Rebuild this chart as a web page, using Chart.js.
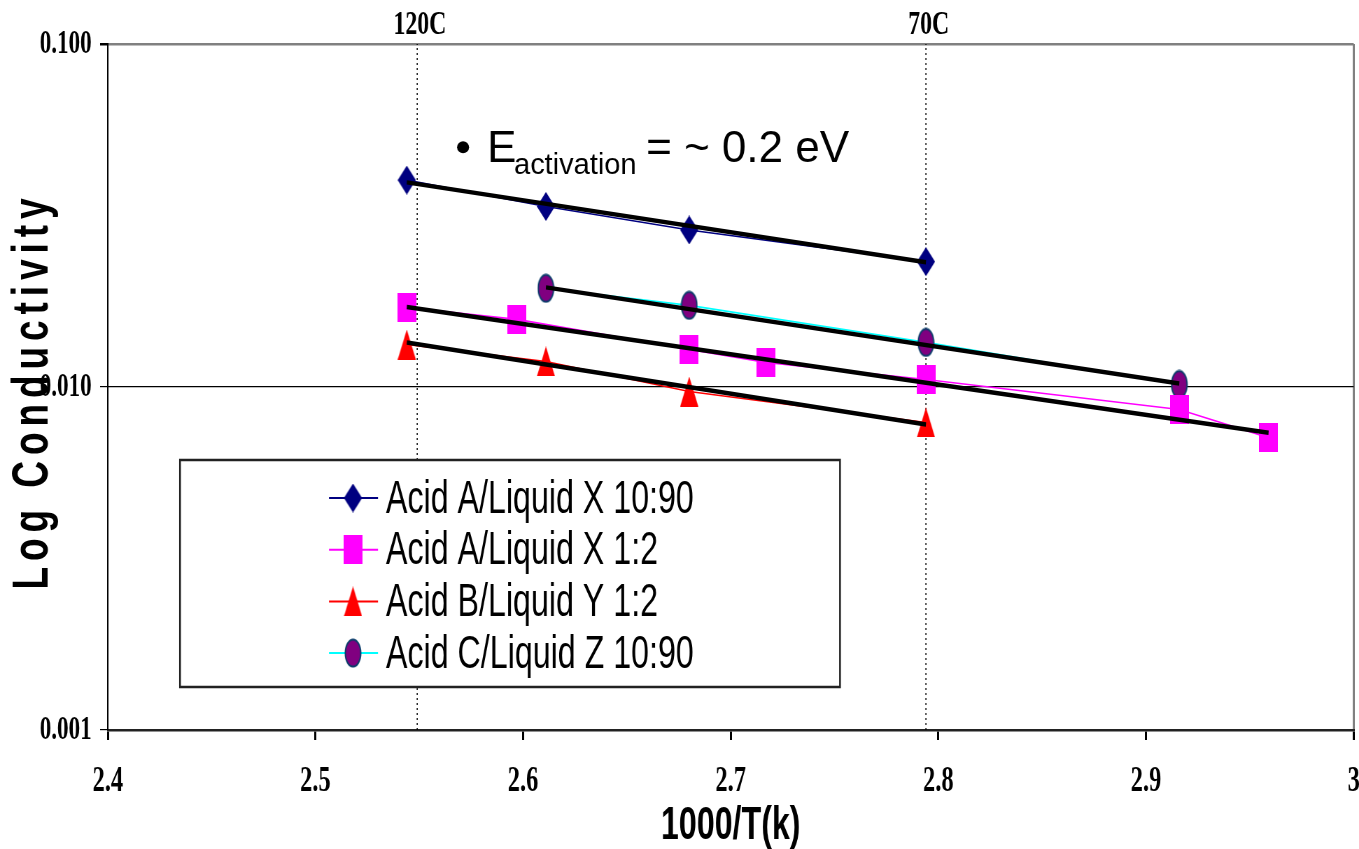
<!DOCTYPE html>
<html>
<head>
<meta charset="utf-8">
<script src="https://cdn.jsdelivr.net/npm/chart.js@4.4.1/dist/chart.umd.min.js"></script>
<style>
  html, body { margin: 0; padding: 0; background: #fff; overflow: hidden; }
  /* the original picture is squeezed sideways, so the chart is drawn wide and narrowed */
  #wrap { position: absolute; left: 0; top: 0; width: 1950px; height: 849px;
          transform: scaleX(0.6998); transform-origin: 0 0; }
</style>
</head>
<body>
<div id="wrap"><canvas id="chart"></canvas></div>
<script>
const K = 0.6998; // horizontal squeeze

// Series data (x = 1000/T, y = conductivity)
const seriesNames = ["Acid A/Liquid X 10:90", "Acid A/Liquid X 1:2", "Acid B/Liquid Y 1:2", "Acid C/Liquid Z 10:90"];
const xA = [2.544, 2.611, 2.680, 2.794];
const yA = [0.0401, 0.0336, 0.0287, 0.0232];
const xB = [2.544, 2.597, 2.680, 2.717, 2.794, 2.916, 2.959];
const yB = [0.01706, 0.01575, 0.01287, 0.01179, 0.01052, 0.00860, 0.00712];
const xC = [2.544, 2.611, 2.680, 2.794];
const yC = [0.0133, 0.01187, 0.00970, 0.00788];
const xD = [2.611, 2.680, 2.794, 2.916];
const yD = [0.0194, 0.0173, 0.01349, 0.01017];

// Exponential trendlines (end points)
const trendX = [[2.544, 2.794], [2.544, 2.959], [2.544, 2.794], [2.611, 2.916]];
const trendY = [[0.0395, 0.0231], [0.0171, 0.00736], [0.01349, 0.00777], [0.01952, 0.01024]];

// Temperature markers
const tempX = [2.549, 2.794];
const tempLabels = ["120C", "70C"];

// Axes
const xTicks = [2.4, 2.5, 2.6, 2.7, 2.8, 2.9, 3.0];
const yTicks = [0.001, 0.01, 0.1];
const xTitle = "1000/T(k)";
const yTitle = "Log Conductivity";
const annotation = { x: 2.5711, y: 0.0500, main: "E", sub: "activation", rest: "= ~ 0.2 eV" };

// Marker images
function makeMarker(kind, w, h, fill, stroke) {
  const c = document.createElement("canvas");
  c.width = w; c.height = h;
  const g = c.getContext("2d");
  g.fillStyle = fill;
  g.beginPath();
  if (kind === "diamond") {
    g.moveTo(w / 2, 0); g.lineTo(w, h / 2); g.lineTo(w / 2, h); g.lineTo(0, h / 2); g.closePath();
  } else if (kind === "square") {
    g.rect(0, 0, w, h);
  } else if (kind === "triangle") {
    g.moveTo(w / 2, 0); g.lineTo(w, h); g.lineTo(0, h); g.closePath();
  } else {
    g.ellipse(w / 2, h / 2, w / 2 - 1.5, h / 2 - 1.5, 0, 0, Math.PI * 2);
  }
  g.fill();
  if (stroke) { g.strokeStyle = stroke; g.lineWidth = 2; g.stroke(); }
  return c;
}

const markers = [
  makeMarker("diamond", 26, 29, "#000080"),
  makeMarker("square", 27, 29, "#FF00FF"),
  makeMarker("triangle", 26, 30, "#FF0000"),
  makeMarker("ellipse", 25, 30, "#800080", "#0b3d6b")
];
const lineColors = ["#000080", "#FF00FF", "#FF0000", "#00FFFF"];

const xs = [xA, xB, xC, xD];
const ys = [yA, yB, yC, yD];
const toPts = (xv, yv) => xv.map((v, i) => ({ x: v, y: yv[i] }));

const datasets = [];
seriesNames.forEach((name, i) => {
  datasets.push({
    label: name,
    data: toPts(xs[i], ys[i]),
    showLine: true,
    borderColor: lineColors[i],
    borderWidth: 1.6,
    pointStyle: markers[i],
    pointRadius: 14,
    order: 1
  });
  datasets.push({
    label: "trend " + name,
    data: toPts(trendX[i], trendY[i]),
    showLine: true,
    borderColor: "#000",
    borderWidth: 4.5,
    pointRadius: 0,
    order: 0
  });
});
tempX.forEach((v, i) => {
  datasets.push({
    label: tempLabels[i],
    data: [{ x: v, y: yTicks[0] }, { x: v, y: yTicks[yTicks.length - 1] }],
    showLine: true,
    borderColor: "#000",
    borderWidth: 1.5,
    borderDash: [2, 3],
    pointRadius: 0,
    order: 2
  });
});

// Extra drawing: temperature labels, y title, legend box, annotation
const extras = {
  id: "extras",
  afterDraw(chart) {
    const ctx = chart.ctx;
    const sx = chart.scales.x, sy = chart.scales.y;
    ctx.save();

    // temperature labels above the plot
    ctx.fillStyle = "#000";
    ctx.font = 'bold 34px "Liberation Serif"';
    ctx.textAlign = "center";
    ctx.textBaseline = "middle";
    tempX.forEach((v, i) => ctx.fillText(tempLabels[i], sx.getPixelForValue(v) + 4, 25));

    // y axis title (rotated, letter spaced)
    ctx.save();
    ctx.translate(48.6, 391);
    ctx.rotate(-Math.PI / 2);
    ctx.scale(0.74, 1 / K);
    ctx.font = 'bold 50px Arial';
    ctx.letterSpacing = "8px";
    ctx.textAlign = "center";
    ctx.textBaseline = "middle";
    ctx.fillText(yTitle, 0, 0);
    ctx.restore();

    // legend box
    const bx = 180 / K, by = 460, bw = 660 / K, bh = 227;
    ctx.fillStyle = "#fff";
    ctx.fillRect(bx, by, bw, bh);
    ctx.strokeStyle = "#222";
    ctx.lineWidth = 2.5;
    ctx.strokeRect(bx, by, bw, bh);
    ctx.font = '46px Arial';
    ctx.textAlign = "left";
    ctx.textBaseline = "middle";
    seriesNames.forEach((name, i) => {
      const ry = by + 38 + i * 51.7;
      ctx.strokeStyle = lineColors[i];
      ctx.lineWidth = 2;
      ctx.beginPath();
      ctx.moveTo(329 / K, ry); ctx.lineTo(378 / K, ry);
      ctx.stroke();
      const m = markers[i];
      ctx.drawImage(m, 353 / K - m.width / 2, ry - m.height / 2);
      ctx.fillStyle = "#000";
      ctx.fillText(name, 386 / K, ry + 2);
    });

    // annotation, drawn without the squeeze
    ctx.save();
    ctx.scale(1 / K, 1);
    const ax = sx.getPixelForValue(annotation.x) * K;
    const ay = sy.getPixelForValue(annotation.y);
    ctx.fillStyle = "#000";
    ctx.beginPath();
    ctx.arc(ax, ay, 6, 0, Math.PI * 2);
    ctx.fill();
    ctx.textAlign = "left";
    ctx.textBaseline = "alphabetic";
    ctx.font = '44px Arial';
    ctx.fillText(annotation.main, ax + 24, ay + 15);
    ctx.font = '29px Arial';
    ctx.fillText(annotation.sub, ax + 51, ay + 27);
    ctx.font = '44px Arial';
    ctx.fillText(annotation.rest, ax + 183, ay + 15);
    ctx.restore();

    ctx.restore();
  }
};

new Chart(document.getElementById("chart"), {
  type: "scatter",
  data: { datasets },
  options: {
    responsive: true,
    maintainAspectRatio: false,
    animation: false,
    layout: { padding: { top: 44, right: 1.6, left: 0, bottom: 0 } },
    plugins: { legend: { display: false }, tooltip: { enabled: false } },
    scales: {
      x: {
        type: "linear",
        min: 2.4,
        max: 3,
        afterBuildTicks: s => { s.ticks = xTicks.map(v => ({ value: v })); },
        afterFit: s => { s.height = 119; s.paddingLeft = 0; s.paddingRight = 0; },
        ticks: {
          color: "#000",
          font: { family: "Liberation Serif", size: 35, weight: "bold" },
          padding: 21,
          maxRotation: 0,
          callback: v => String(Number(v.toFixed(1)))
        },
        grid: {
          drawOnChartArea: true,
          color: c => (c.tick && c.tick.value === 3) ? "#808080" : "rgba(0,0,0,0)",
          lineWidth: 3,
          tickColor: "#000",
          tickLength: 10
        },
        border: { color: "#222", width: 2.5 },
        title: {
          display: true,
          text: xTitle,
          color: "#000",
          font: { family: "Arial", size: 46, weight: "bold", lineHeight: 1.0 },
          padding: { top: 0, bottom: 0 }
        }
      },
      y: {
        type: "logarithmic",
        min: 0.001,
        max: 0.1,
        afterBuildTicks: s => { s.ticks = yTicks.map(v => ({ value: v })); },
        afterFit: s => { s.width = 154; },
        ticks: {
          color: "#000",
          font: { family: "Liberation Serif", size: 33, weight: "bold" },
          padding: 12,
          callback: v => Number(v).toFixed(3)
        },
        grid: {
          color: c => {
            if (!c.tick) return "rgba(0,0,0,0)";
            if (Math.abs(c.tick.value - 0.01) < 1e-9) return "#000";
            if (Math.abs(c.tick.value - 0.1) < 1e-9) return "#808080";
            return "rgba(0,0,0,0)";
          },
          lineWidth: c => (c.tick && Math.abs(c.tick.value - 0.1) < 1e-9) ? 2.5 : 1.2,
          tickColor: "#000",
          tickLength: 11
        },
        border: { color: "#000", width: 2 }
      }
    }
  },
  plugins: [extras]
});
</script>
</body>
</html>
